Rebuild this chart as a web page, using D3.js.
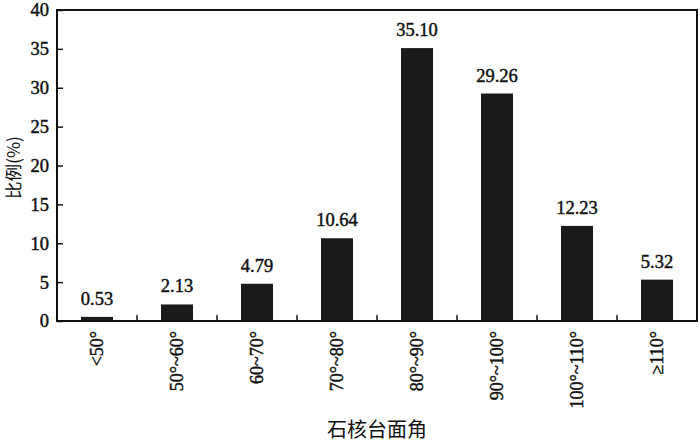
<!DOCTYPE html>
<html>
<head>
<meta charset="utf-8">
<script src="https://cdn.jsdelivr.net/npm/d3@7"></script>
<style>
  body { margin: 0; background: #fff; }
  text { fill: #111; }
  .heavy { stroke: #111; stroke-width: 0.45; }
</style>
</head>
<body>
<script>
// data
var categories = ["<50°", "50°~60°", "60~70°", "70°~80°", "80°~90°", "90°~100°", "100°~110°", "≥110°"];
var values = [0.53, 2.13, 4.79, 10.64, 35.10, 29.26, 12.23, 5.32];
var yTicks = [0, 5, 10, 15, 20, 25, 30, 35, 40];

var serif = "'Liberation Serif', 'DejaVu Serif', serif";
var cjk = "'Noto Sans CJK SC', sans-serif";

var width = 700, height = 442;
var margin = {top: 10, right: 3, bottom: 121, left: 57};
var plotW = width - margin.left - margin.right;
var plotH = height - margin.top - margin.bottom;

var svg = d3.select("body").append("svg")
    .attr("width", width)
    .attr("height", height);

var g = svg.append("g")
    .attr("transform", "translate(" + margin.left + "," + margin.top + ")");

var x = d3.scaleBand().domain(categories).range([0, plotW]).paddingInner(0).paddingOuter(0);
var y = d3.scaleLinear().domain([0, 40]).range([plotH, 0]);

var barW = 32;

// bars
g.selectAll("rect.bar")
    .data(values)
    .enter().append("rect")
    .attr("class", "bar")
    .attr("x", function(d, i) { return x(categories[i]) + x.bandwidth() / 2 - barW / 2; })
    .attr("y", function(d) { return y(d); })
    .attr("width", barW)
    .attr("height", function(d) { return plotH - y(d); })
    .attr("fill", "#1a1a1a");

// value labels
g.selectAll("text.val")
    .data(values)
    .enter().append("text")
    .attr("class", "val heavy")
    .attr("x", function(d, i) { return x(categories[i]) + x.bandwidth() / 2; })
    .attr("y", function(d) { return y(d) - 12; })
    .attr("text-anchor", "middle")
    .attr("font-family", serif)
    .attr("font-size", 18.5)
    .text(function(d) { return d.toFixed(2); });

// y axis: inward ticks, labels outside
var yAxis = g.append("g")
    .call(d3.axisRight(y).tickValues(yTicks).tickSize(6).tickFormat(d3.format("d")));
yAxis.attr("font-family", serif);
yAxis.select(".domain").remove();
yAxis.selectAll("line").attr("stroke", "#111").attr("stroke-width", 1.5);
yAxis.selectAll("text")
    .attr("class", "heavy")
    .attr("x", -8)
    .attr("text-anchor", "end")
    .attr("font-size", 18.5)
    .attr("fill", "#111");

// x ticks between categories, pointing up
var boundaries = categories.slice(1);
g.selectAll("line.xtick")
    .data(boundaries)
    .enter().append("line")
    .attr("class", "xtick")
    .attr("x1", function(d) { return x(d); })
    .attr("x2", function(d) { return x(d); })
    .attr("y1", plotH)
    .attr("y2", plotH - 6)
    .attr("stroke", "#111")
    .attr("stroke-width", 1.5);

// x category labels, rotated
g.selectAll("text.cat")
    .data(categories)
    .enter().append("text")
    .attr("class", "cat heavy")
    .attr("transform", function(d) {
      return "translate(" + (x(d) + x.bandwidth() / 2 + 6) + "," + (plotH + 10) + ") rotate(-90)";
    })
    .attr("text-anchor", "end")
    .attr("font-family", serif)
    .attr("font-size", 18)
    .text(function(d) { return d; });

// frame
g.append("rect")
    .attr("x", 0).attr("y", 0)
    .attr("width", plotW).attr("height", plotH)
    .attr("fill", "none")
    .attr("stroke", "#111")
    .attr("stroke-width", 2);

// axis titles
svg.append("text")
    .attr("x", margin.left + plotW / 2)
    .attr("y", 437)
    .attr("text-anchor", "middle")
    .attr("font-family", cjk)
    .attr("font-size", 20)
    .text("石核台面角");

svg.append("text")
    .attr("transform", "translate(20," + (margin.top + plotH / 2 + 2) + ") rotate(-90)")
    .attr("text-anchor", "middle")
    .attr("font-family", cjk)
    .attr("font-size", 17.5)
    .text("比例(%)");
</script>
</body>
</html>
